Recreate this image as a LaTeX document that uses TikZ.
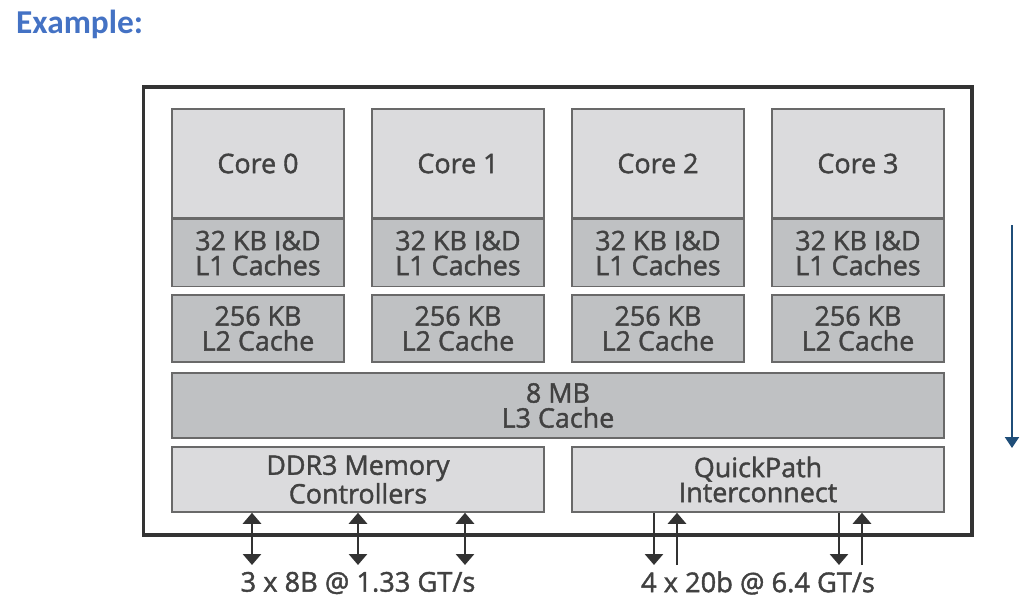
\documentclass[tikz,border=0pt]{standalone}
\usepackage{fontspec}
\setmainfont{Open Sans}
\newfontfamily\headfont{Carlito}
\newfontfamily\boxfont[FakeBold=1.5]{Open Sans}
\usetikzlibrary{arrows.meta,positioning}

\begin{document}
\begin{tikzpicture}[x=0.02cm, y=-0.02cm,
    block/.style={rectangle, draw=edgegray, line width=0.9pt, inner sep=0pt, text=textgray,
        align=center, font=\boxfont\fontsize{15.3}{14.2}\selectfont},
    corebox/.style={block, fill=corefill, minimum width=3.44cm, minimum height=2.18cm},
    cachebox/.style={block, fill=cachefill, minimum width=3.44cm, minimum height=1.34cm},
    iobox/.style={block, fill=corefill, minimum width=7.44cm, minimum height=1.3cm},
    bus/.style={line width=1.6pt, draw=black!80, {Triangle[width=3.6mm,length=2.2mm]}-{Triangle[width=3.6mm,length=2.2mm]}},
    busdown/.style={line width=1.6pt, draw=black!80, -{Triangle[width=3.6mm,length=2.2mm]}},
    buslabel/.style={text=textgray, font=\boxfont\fontsize{15.5}{15}\selectfont}]
    % Define colors
    \definecolor{corefill}{RGB}{219,219,221}
    \definecolor{cachefill}{RGB}{191,193,195}
    \definecolor{edgegray}{RGB}{105,105,105}
    \definecolor{textgray}{RGB}{65,65,65}
    \definecolor{headblue}{RGB}{68,114,196}
    \definecolor{arrowblue}{RGB}{31,78,121}

    \useasboundingbox (0,0) rectangle (1025,602);

    % Title
    \node[anchor=west, text=headblue, font=\headfont\bfseries\fontsize{19}{19}\selectfont] (title) at (10,24) {Example:};

    % Chip outline
    \node[draw=black!80, line width=1.8pt, minimum width=16.58cm, minimum height=8.96cm, inner sep=0pt] (chip) at (557.5,311) {};

    % Draw cores with L1 and L2 caches
    \foreach \i/\x in {0/258, 1/458, 2/658, 3/858} {
        \node[corebox] (core\i) at (\x,163.5) {Core \i};
        \node[cachebox, below=0pt of core\i] (lone\i) {32 KB I\&D\\L1 Caches};
        \node[cachebox] (ltwo\i) at (\x,328.5) {256 KB\\L2 Cache};
    }

    % Shared L3 and controllers
    \node[block, fill=cachefill, minimum width=15.44cm, minimum height=1.3cm] (lthree) at (558,405.5) {8 MB\\L3 Cache};
    \node[iobox] (ddr) at (358,479.5) {DDR3 Memory\\Controllers};
    \node[iobox] (qpi) at (758,479.5) {QuickPath\\Interconnect};

    % Memory channels
    \foreach \n/\x in {1/252, 2/358, 3/465} {
        \coordinate (mem\n) at (\x,565);
        \draw[bus] (ddr.south -| mem\n) -- (mem\n);
    }
    \node[buslabel] (memlabel) at (358,583) {3 x 8B @ 1.33 GT/s};

    % QuickPath links
    \foreach \n/\x in {1/654, 2/839} {
        \coordinate (qout\n) at (\x,565);
        \coordinate (qin\n) at (\x+23,565);
        \draw[busdown] (qpi.south -| qout\n) -- (qout\n);
        \draw[busdown] (qin\n) -- (qpi.south -| qin\n);
    }
    \node[buslabel] (qpilabel) at (758,583) {4 x 20b @ 6.4 GT/s};

    % Side arrow
    \coordinate (sidetop) at (1012,225);
    \coordinate (sidebot) at (1012,448);
    \draw[line width=1.3pt, arrowblue, -{Triangle[width=2.8mm,length=2.2mm]}] (sidetop) -- (sidebot);
\end{tikzpicture}
\end{document}
